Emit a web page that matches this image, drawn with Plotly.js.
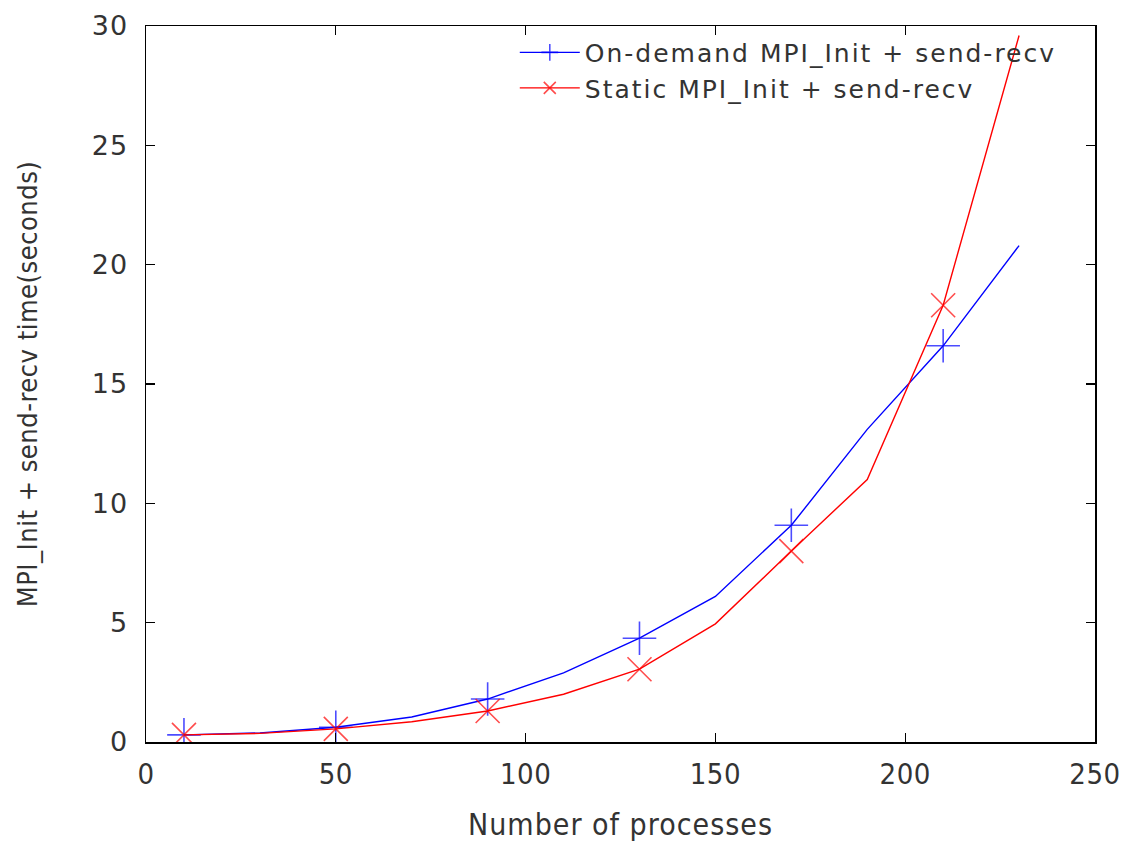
<!DOCTYPE html>
<html>
<head>
<meta charset="utf-8">
<script src="https://cdn.plot.ly/plotly-3.0.1.min.js"></script>
<style>
html,body{margin:0;padding:0;background:#fff}
#chart{width:1125px;height:842px}
.legendtext{letter-spacing:2px}
.xtitle{letter-spacing:1px}
.ytitle{letter-spacing:0.5px}
.ytick text{letter-spacing:1px}
.xtick text{letter-spacing:0.5px}
</style>
</head>
<body>
<div id="chart"></div>
<script>
const processes = [10, 30, 50, 70, 90, 110, 130, 150, 170, 190, 210, 230];
const onDemand = [0.3, 0.38, 0.62, 1.05, 1.8, 2.9, 4.35, 6.1, 9.08, 13.1, 16.6, 20.8];
const staticInit = [0.3, 0.36, 0.55, 0.85, 1.3, 2.0, 3.05, 4.95, 8.0, 11.0, 18.3, 29.6];
const seriesNames = ['On-demand MPI_Init + send-recv', 'Static MPI_Init + send-recv'];
const xTicks = [0, 50, 100, 150, 200, 250];
const yTicks = [0, 5, 10, 15, 20, 25, 30];

// markers every other sample (gnuplot pointinterval 2)
const markerSizes = processes.map((_, i) => (i % 2 === 0 ? 24 : 0));

const traces = [
  {
    x: processes, y: onDemand, name: seriesNames[0], type: 'scatter', mode: 'lines+markers',
    line: {color: '#0000ff', width: 1.4},
    marker: {symbol: 'cross-thin-open', size: markerSizes, color: '#0000ff', line: {color: '#0000ff', width: 1.6}}
  },
  {
    x: processes, y: staticInit, name: seriesNames[1], type: 'scatter', mode: 'lines+markers',
    line: {color: '#ff0000', width: 1.4},
    marker: {symbol: 'x-thin-open', size: markerSizes, color: '#ff0000', line: {color: '#ff0000', width: 1.6}}
  }
];

const axisCommon = {
  showgrid: false, zeroline: false, showline: true, mirror: 'allticks',
  linecolor: '#000', linewidth: 1.5, ticks: 'inside', ticklen: 9, tickwidth: 1.3, tickcolor: '#000'
};

const layout = {
  width: 1125, height: 842,
  margin: {l: 146, r: 30, t: 26, b: 100},
  paper_bgcolor: '#fff', plot_bgcolor: '#fff',
  showlegend: true,
  legend: {
    x: 0.965, y: 0.995, xanchor: 'right', yanchor: 'top',
    bgcolor: 'rgba(0,0,0,0)', borderwidth: 0,
    font: {family: 'DejaVu Sans', size: 25, color: '#333'},
    tracegroupgap: 0, itemwidth: 60
  },
  xaxis: Object.assign({}, axisCommon, {
    range: [0, 250], tickvals: xTicks, ticktext: xTicks.map(String),
    tickfont: {family: 'DejaVu Sans Condensed, Liberation Sans Narrow', size: 29, color: '#333'},
    ticklabelstandoff: 6,
    title: {text: 'Number of processes', font: {family: 'DejaVu Sans Condensed, Liberation Sans Narrow', size: 30, color: '#333'}, standoff: 24}
  }),
  yaxis: Object.assign({}, axisCommon, {
    range: [0, 30], tickvals: yTicks, ticktext: yTicks.map(String),
    tickfont: {family: 'DejaVu Sans', size: 27, color: '#333'},
    ticklabelstandoff: 11,
    title: {text: 'MPI_Init + send-recv time(seconds)', font: {family: 'DejaVu Sans Condensed, Liberation Sans Narrow', size: 27, color: '#333'}, standoff: 46}
  })
};

Plotly.newPlot('chart', traces, layout, {displayModeBar: false, staticPlot: true});
</script>
</body>
</html>
